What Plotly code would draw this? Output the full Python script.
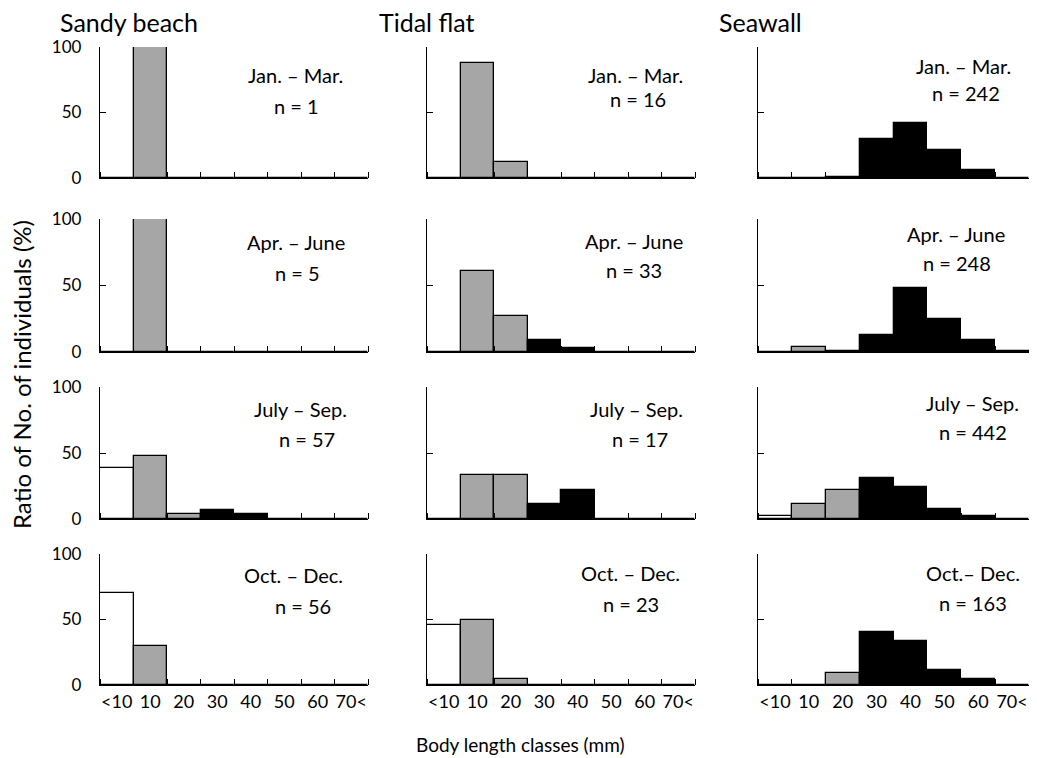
import plotly.graph_objects as go

# ---------------- data ----------------
categories = ["<10", "10", "20", "30", "40", "50", "60", "70<"]
sites = ["Sandy beach", "Tidal flat", "Seawall"]

periods = [
    ["Jan. – Mar.", "Jan. – Mar.", "Jan. – Mar."],
    ["Apr. – June", "Apr. – June", "Apr. – June"],
    ["July – Sep.", "July – Sep.", "July – Sep."],
    ["Oct. – Dec.", "Oct. – Dec.", "Oct.– Dec."],
]
sample_sizes = [
    [1, 16, 242],
    [5, 33, 248],
    [57, 17, 442],
    [56, 23, 163],
]

# ratio (%) per body length class, rows = seasons
sandy_beach = [
    [0, 100, 0, 0, 0, 0, 0, 0],
    [0, 100, 0, 0, 0, 0, 0, 0],
    [38.6, 47.4, 3.5, 7.0, 3.5, 0, 0, 0],
    [70.0, 30.0, 0, 0, 0, 0, 0, 0],
]
tidal_flat = [
    [0, 87.5, 12.5, 0, 0, 0, 0, 0],
    [0, 60.6, 27.3, 9.1, 3.0, 0, 0, 0],
    [0, 33.3, 33.3, 11.1, 22.3, 0, 0, 0],
    [45.6, 50.0, 4.4, 0, 0, 0, 0, 0],
]
seawall = [
    [0, 0, 1.0, 30.0, 42.0, 21.0, 6.0, 0],
    [0, 4.0, 0.5, 13.0, 48.0, 24.5, 9.0, 1.0],
    [2.0, 11.0, 22.0, 31.0, 24.0, 7.5, 2.0, 0],
    [0, 0, 9.2, 40.6, 33.7, 11.7, 4.3, 0],
]

# growth stage of each class: Y = young (white), J = juvenile (gray), A = adult (black)
sandy_stage = ["YJJJJJJJ", "YJJJJJJJ", "YJJAAAAA", "YJJJJJJJ"]
tidal_stage = ["YJJAAAAA", "YJJAAAAA", "YJJAAAAA", "YJJAAAAA"]
seawall_stage = ["YJYAAAAA", "YJAAAAAA", "YJJAAAAA", "YJJAAAAA"]

site_values = [sandy_beach, tidal_flat, seawall]
site_stages = [sandy_stage, tidal_stage, seawall_stage]

# ---------------- styling / layout ----------------
W, H = 1037, 758
OFF = 8  # page margin around the figure in the browser
stage_color = {"Y": "#FFFFFF", "J": "#A6A6A6", "A": "#000000"}
FONT = "Lato"


def px_x(p):
    return (p - OFF) / W


def px_y(p):
    return 1 - (p - OFF) / H


col_px = [(100, 368), (427, 695), (758, 1029)]
row_px = [(47, 178), (219, 352), (387, 519), (554, 685)]

# label centres (screen pixels) for period line and n line
label_pos = [
    [((295, 75), (296, 106)), ((635, 75), (638, 99)), ((963, 66), (966, 93))],
    [((296, 242), (297, 273)), ((634, 241), (634, 270)), ((956, 234), (957, 263))],
    [((300, 409), (307, 439)), ((636, 409), (640, 439)), ((972, 403), (973, 432))],
    [((293, 575), (303, 606)), ((630, 573), (631, 604)), ((973, 573), (973, 603))],
]

fig = go.Figure()
x_centres = [i + 0.5 for i in range(len(categories))]

annotations = []
for r in range(4):
    for c in range(3):
        k = r * 3 + c + 1
        vals = site_values[c][r]
        stages = site_stages[c][r]
        colors = [stage_color[s] for s in stages]
        xa = "x" if k == 1 else f"x{k}"
        ya = "y" if k == 1 else f"y{k}"
        fig.add_trace(go.Bar(
            x=x_centres, y=vals, width=1.0,
            marker=dict(color=colors, line=dict(color="black", width=1.3)),
            xaxis=xa, yaxis=ya, showlegend=False, hoverinfo="skip",
        ))
        x0, x1 = col_px[c]
        y0, y1 = row_px[r]
        xname = "xaxis" if k == 1 else f"xaxis{k}"
        yname = "yaxis" if k == 1 else f"yaxis{k}"
        fig.layout[xname] = dict(
            domain=[px_x(x0), px_x(x1)], anchor=ya, range=[0, 8],
            automargin=False,
            showline=True, linecolor="black", linewidth=1.3,
            showgrid=False, zeroline=False,
            tickmode="array", tickvals=x_centres,
            ticktext=categories if r == 3 else [""] * 8,
            showticklabels=(r == 3), ticks="",
            tickfont=dict(family=FONT, size=18, color="black"),
            minor=dict(tick0=0, dtick=1, ticks="inside", ticklen=6,
                       tickcolor="black", tickwidth=1.3, showgrid=False),
            fixedrange=True,
        )
        fig.layout[yname] = dict(
            domain=[px_y(y1), px_y(y0)], anchor=xa, range=[0, 100],
            automargin=False,
            showline=True, linecolor="black", linewidth=1.3,
            showgrid=False, zeroline=False,
            tickmode="array", tickvals=[0, 50, 100],
            ticks="inside", ticklen=6, tickcolor="black", tickwidth=1.3,
            showticklabels=(c == 0),
            tickfont=dict(family=FONT, size=17, color="black"),
            ticklabelstandoff=14,
            fixedrange=True,
        )
        (px1, py1), (px2, py2) = label_pos[r][c]
        annotations.append(dict(
            x=px_x(px1), y=px_y(py1), xref="paper", yref="paper",
            text=periods[r][c], showarrow=False, xanchor="center", yanchor="middle",
            font=dict(family=FONT, size=20, color="black")))
        annotations.append(dict(
            x=px_x(px2), y=px_y(py2), xref="paper", yref="paper",
            text=f"n = {sample_sizes[r][c]}", showarrow=False,
            xanchor="center", yanchor="middle",
            font=dict(family=FONT, size=20, color="black")))

title_x = [59, 378, 718]
for c in range(3):
    annotations.append(dict(
        x=px_x(title_x[c]), y=px_y(22), xref="paper", yref="paper",
        text=sites[c], showarrow=False, xanchor="left", yanchor="middle",
        borderpad=0,
        font=dict(family=FONT, size=25, color="black")))

annotations.append(dict(
    x=px_x(520), y=px_y(744), xref="paper", yref="paper",
    text="Body length classes (mm)", showarrow=False,
    xanchor="center", yanchor="middle",
    font=dict(family=FONT, size=19, color="black")))
annotations.append(dict(
    x=px_x(21), y=px_y(375), xref="paper", yref="paper",
    text="Ratio of No. of individuals (%)", showarrow=False, textangle=-90,
    xanchor="center", yanchor="middle",
    font=dict(family=FONT, size=24, color="black")))

fig.update_layout(
    width=W, height=H, margin=dict(l=0, r=0, t=0, b=0, autoexpand=False),
    paper_bgcolor="white", plot_bgcolor="white",
    bargap=0, annotations=annotations, showlegend=False,
)

fig.write_html("out.html")
